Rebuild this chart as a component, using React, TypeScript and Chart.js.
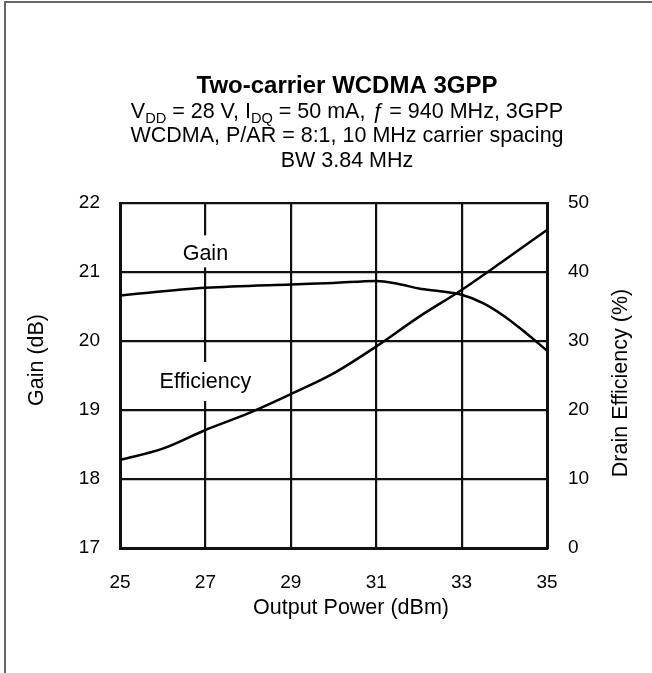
import React, { useEffect, useRef } from "react";
import { Chart, registerables } from "chart.js";

Chart.register(...registerables);

// ---- data ----
const gainPower = [25, 27, 29, 30, 31, 31.5, 32, 32.5, 33, 33.5, 34, 34.5, 35];
const gainDb = [20.66, 20.77, 20.82, 20.84, 20.87, 20.83, 20.76, 20.72, 20.67, 20.55, 20.36, 20.12, 19.86];
const effPower = [25, 26, 27, 28, 29, 30, 31, 32, 33, 34, 35];
const effPct = [12.75, 14.4, 17.1, 19.5, 22.3, 25.3, 29.2, 33.5, 37.4, 41.7, 46.1];

const xTickValues = [25, 27, 29, 31, 33, 35];
const gainTickValues = [17, 18, 19, 20, 21, 22];
const effTickValues = [0, 10, 20, 30, 40, 50];

const titleLine1 = "Two-carrier WCDMA 3GPP";
const titleLine3 = "WCDMA, P/AR = 8:1, 10 MHz carrier spacing";
const titleLine4 = "BW 3.84 MHz";
const xTitle = "Output Power (dBm)";
const yTitle = "Gain (dB)";
const y2Title = "Drain Efficiency (%)";
const gainLabel = "Gain";
const effLabel = "Efficiency";

const FONT = '"Liberation Sans", Arial, sans-serif';

type Run = { t: string; sub?: boolean; it?: boolean };
const titleLine2: Run[] = [
  { t: "V" },
  { t: "DD", sub: true },
  { t: " = 28 V, I" },
  { t: "DQ", sub: true },
  { t: " = 50 mA, " },
  { t: "ƒ", it: true },
  { t: " = 940 MHz, 3GPP" },
];

function runFont(r: Run, size: number) {
  const s = r.sub ? size * 0.68 : size;
  return `${r.it ? "italic " : ""}${s}px ${FONT}`;
}

function drawRuns(ctx: CanvasRenderingContext2D, runs: Run[], cx: number, baseline: number, size: number) {
  let total = 0;
  const widths = runs.map((r) => {
    ctx.font = runFont(r, size);
    const w = ctx.measureText(r.t).width;
    total += w;
    return w;
  });
  let x = cx - total / 2;
  ctx.textAlign = "left";
  ctx.textBaseline = "alphabetic";
  runs.forEach((r, i) => {
    ctx.font = runFont(r, size);
    ctx.fillText(r.t, x, baseline + (r.sub ? size * 0.24 : 0));
    x += widths[i];
  });
}

const overlayPlugin = {
  id: "overlay",
  afterDraw(chart: any) {
    const ctx: CanvasRenderingContext2D = chart.ctx;
    const xs = chart.scales.x;
    const ys = chart.scales.y;
    ctx.save();
    ctx.fillStyle = "#000";

    // title block
    const cx = 347;
    ctx.textAlign = "center";
    ctx.textBaseline = "alphabetic";
    ctx.font = `bold 24px ${FONT}`;
    ctx.fillText(titleLine1, cx, 93);
    drawRuns(ctx, titleLine2, cx, 118, 21.5);
    ctx.textAlign = "center";
    ctx.font = `21.5px ${FONT}`;
    ctx.fillText(titleLine3, cx, 142);
    ctx.fillText(titleLine4, cx, 167);

    // x axis title
    ctx.fillText(xTitle, 351, 614);

    // y titles (both read bottom-to-top)
    ctx.textBaseline = "middle";
    ctx.save();
    ctx.translate(37, 360);
    ctx.rotate(-Math.PI / 2);
    ctx.fillText(yTitle, 0, 0);
    ctx.restore();
    ctx.save();
    ctx.translate(621, 383);
    ctx.rotate(-Math.PI / 2);
    ctx.fillText(y2Title, 0, 0);
    ctx.restore();

    // in-plot labels, masking the grid line behind them
    const labels = [
      { t: gainLabel, x: 27, y: 21.27, up: 18, down: 14 },
      { t: effLabel, x: 27, y: 19.42, up: 19, down: 20 },
    ];
    ctx.font = `21.5px ${FONT}`;
    labels.forEach((l) => {
      const px = xs.getPixelForValue(l.x);
      const py = ys.getPixelForValue(l.y);
      const w = ctx.measureText(l.t).width;
      ctx.fillStyle = "#fff";
      ctx.fillRect(px - w / 2 - 2, py - l.up, w + 4, l.up + l.down);
      ctx.fillStyle = "#000";
      ctx.textAlign = "center";
      ctx.textBaseline = "middle";
      ctx.fillText(l.t, px, py + 1);
    });
    ctx.restore();
  },
};

export default function App() {
  const ref = useRef<HTMLCanvasElement | null>(null);

  useEffect(() => {
    if (!ref.current) return;
    const gridColor = "#111";
    const tickFont = { family: FONT, size: 19 };
    const chart = new Chart(ref.current, {
      type: "line",
      data: {
        datasets: [
          {
            label: "Gain",
            data: gainPower.map((x, i) => ({ x, y: gainDb[i] })),
            yAxisID: "y",
            borderColor: "#000",
            borderWidth: 2.5,
            pointRadius: 0,
            cubicInterpolationMode: "monotone",
            fill: false,
          },
          {
            label: "Efficiency",
            data: effPower.map((x, i) => ({ x, y: effPct[i] })),
            yAxisID: "y2",
            borderColor: "#000",
            borderWidth: 2.5,
            pointRadius: 0,
            cubicInterpolationMode: "monotone",
            fill: false,
          },
        ],
      },
      options: {
        responsive: false,
        animation: false,
        devicePixelRatio: 1,
        layout: { padding: { top: 203, left: 0, right: 0, bottom: 0 } },
        plugins: { legend: { display: false }, tooltip: { enabled: false }, title: { display: false } },
        scales: {
          x: {
            type: "linear",
            min: 25,
            max: 35,
            afterBuildTicks: (s: any) => {
              s.ticks = xTickValues.map((v) => ({ value: v }));
            },
            afterFit: (s: any) => {
              s.height = 125;
            },
            ticks: { color: "#000", font: tickFont, padding: 23, maxRotation: 0 },
            grid: { color: gridColor, lineWidth: 2.2, drawTicks: false },
            border: { color: gridColor, width: 3 },
          },
          y: {
            position: "left",
            min: 17,
            max: 22,
            afterBuildTicks: (s: any) => {
              s.ticks = gainTickValues.map((v) => ({ value: v }));
            },
            afterFit: (s: any) => {
              s.width = 120;
            },
            ticks: { color: "#000", font: tickFont, padding: 20 },
            grid: { color: gridColor, lineWidth: 2.2, drawTicks: false },
            border: { color: gridColor, width: 3 },
          },
          y2: {
            position: "right",
            min: 0,
            max: 50,
            afterBuildTicks: (s: any) => {
              s.ticks = effTickValues.map((v) => ({ value: v }));
            },
            afterFit: (s: any) => {
              s.width = 105;
            },
            ticks: { color: "#000", font: tickFont, padding: 21 },
            grid: { display: false, drawTicks: false },
            border: { color: gridColor, width: 3 },
          },
        },
      },
      plugins: [overlayPlugin],
    } as any);
    return () => chart.destroy();
  }, []);

  return (
    <div style={{ position: "absolute", left: 0, top: 0, width: 652, height: 673, background: "#fff", overflow: "hidden" }}>
      <div
        style={{
          position: "absolute",
          left: 4,
          top: 1,
          width: 700,
          height: 700,
          borderLeft: "2px solid #666",
          borderTop: "2px solid #666",
        }}
      />
      <canvas ref={ref} width={652} height={673} style={{ position: "absolute", left: 0, top: 0, display: "block" }} />
    </div>
  );
}
